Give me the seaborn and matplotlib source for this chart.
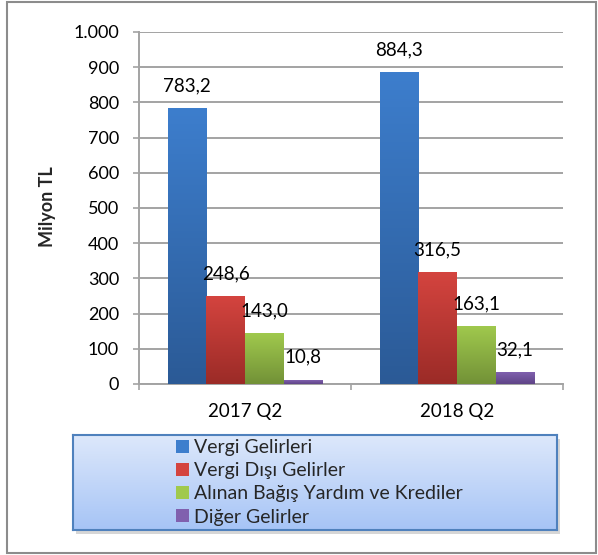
import numpy as np
import pandas as pd
import matplotlib
matplotlib.use("Agg")
import matplotlib.pyplot as plt
import seaborn as sns
from matplotlib.patches import Rectangle
from matplotlib.colors import to_rgb

# ---- data ----
periods = ["2017 Q2", "2018 Q2"]
series = ["Vergi Gelirleri", "Vergi Dışı Gelirler",
          "Alınan Bağış Yardım ve Krediler", "Diğer Gelirler"]
vergi = [783.2, 884.3]
vergi_disi = [248.6, 316.5]
bagis = [143.0, 163.1]
diger = [10.8, 32.1]
yticks = [0, 100, 200, 300, 400, 500, 600, 700, 800, 900, 1000]
ytick_labels = ["0", "100", "200", "300", "400", "500", "600", "700",
                "800", "900", "1.000"]
y_label = "Milyon TL"

# ---- styles ----
top_colors = ["#3D7ECD", "#D4443F", "#A0C94D", "#8060AE"]
bottom_colors = ["#2B5A96", "#9B2B27", "#729137", "#5F4487"]
grid_color = "#a3a3a3"

sns.set_theme(style="white")
plt.rcParams["font.family"] = ["Lato", "DejaVu Sans"]

rows = []
for s, vals in zip(series, [vergi, vergi_disi, bagis, diger]):
    for p, v in zip(periods, vals):
        rows.append({"Dönem": p, "Seri": s, "Değer": v})
df = pd.DataFrame(rows)

W, H = 598, 555
fig = plt.figure(figsize=(W / 100, H / 100), dpi=100)
fig.patch.set_facecolor("white")
ax = fig.add_axes([139 / W, (H - 384) / H, (563 - 139) / W, (384 - 32) / H])

sns.barplot(data=df, x="Dönem", y="Değer", hue="Seri", order=periods,
            hue_order=series, palette=top_colors, width=0.73, gap=0,
            saturation=1, errorbar=None, legend=False, linewidth=0,
            edgecolor="none", ax=ax, zorder=3)

# gradient fill on bars + labels
grad = np.linspace(0, 1, 256)[:, None, None]
for i, cont in enumerate(ax.containers):
    c1 = np.array(to_rgb(top_colors[i]))
    c2 = np.array(to_rgb(bottom_colors[i]))
    img = c1 * (1 - grad) + c2 * grad
    for bar in cont:
        x0, w, h = bar.get_x(), bar.get_width(), bar.get_height()
        ax.imshow(img, extent=[x0, x0 + w, 0, h], origin="upper",
                  aspect="auto", interpolation="bilinear", zorder=4)
        ax.annotate(f"{h:.1f}".replace(".", ","), xy=(x0 + w / 2, h),
                    xytext=(0, 16.5), textcoords="offset points",
                    ha="center", va="center", fontsize=13.5, color="black",
                    zorder=6)

ax.set_xlim(-0.5, 1.5)
ax.set_ylim(0, 1000)
ax.set_yticks(yticks)
ax.set_yticklabels(ytick_labels)
ax.set_xlabel("")
ax.set_ylabel("")

ax.yaxis.grid(True, color=grid_color, lw=1.4, zorder=0)
ax.xaxis.grid(False)
ax.set_axisbelow(True)
for s in ["top", "right"]:
    ax.spines[s].set_visible(False)
for s in ["left", "bottom"]:
    ax.spines[s].set_color(grid_color)
    ax.spines[s].set_linewidth(1.4)

ax.tick_params(axis="y", left=True, length=4.3, width=1.2, color=grid_color,
               direction="out", pad=10, labelsize=13, labelcolor="black")
ax.set_xticks([0, 1])
ax.set_xticklabels(periods)
ax.set_xticks([-0.5, 0.5, 1.5], minor=True)
ax.tick_params(axis="x", which="major", bottom=False, length=0, pad=14,
               labelsize=13.5, labelcolor="black")
ax.tick_params(axis="x", which="minor", bottom=True, length=4.3, width=1.2,
               color=grid_color, direction="out")

fig.text(48 / W, 1 - 207 / H, y_label, rotation=90, ha="center", va="center",
         fontsize=13, fontweight="bold")

# ---- legend box ----
lx0, lx1, ly0, ly1 = 73, 557, 435, 530
shadow = Rectangle(((lx0 + 3) / W, 1 - (ly1 + 4) / H), (lx1 - lx0) / W,
                   (ly1 - ly0) / H, transform=fig.transFigure,
                   facecolor="#bbbbbb", edgecolor="none", alpha=0.6, zorder=-1)
fig.patches.append(shadow)
lax = fig.add_axes([lx0 / W, 1 - ly1 / H, (lx1 - lx0) / W, (ly1 - ly0) / H])
lc1 = np.array(to_rgb("#DDE8FB"))
lc2 = np.array(to_rgb("#A6C4F6"))
lax.imshow(lc1 * (1 - grad) + lc2 * grad, extent=[0, 1, 0, 1],
           origin="upper", aspect="auto", interpolation="bilinear")
lax.set_xlim(0, 1)
lax.set_ylim(0, 1)
lax.set_xticks([])
lax.set_yticks([])
for s in lax.spines.values():
    s.set_color("#4F81BD")
    s.set_linewidth(1.5)
    s.set_visible(True)

handles = [Rectangle((0, 0), 1, 1, facecolor=c, edgecolor="none")
           for c in top_colors]
fig.legend(handles, series, loc="upper left",
           bbox_to_anchor=(176 / W, 1 - 439 / H), frameon=False,
           fontsize=14, handlelength=0.65, handleheight=0.65,
           handletextpad=0.3, labelspacing=0.32, borderpad=0,
           borderaxespad=0)

# ---- outer border ----
fig.patches.append(Rectangle((7 / W, 2 / H), 589 / W, 551 / H,
                             transform=fig.transFigure, fill=False,
                             edgecolor="#8c8c8c", lw=1.5, zorder=10))

fig.savefig("out.png", dpi=100)
